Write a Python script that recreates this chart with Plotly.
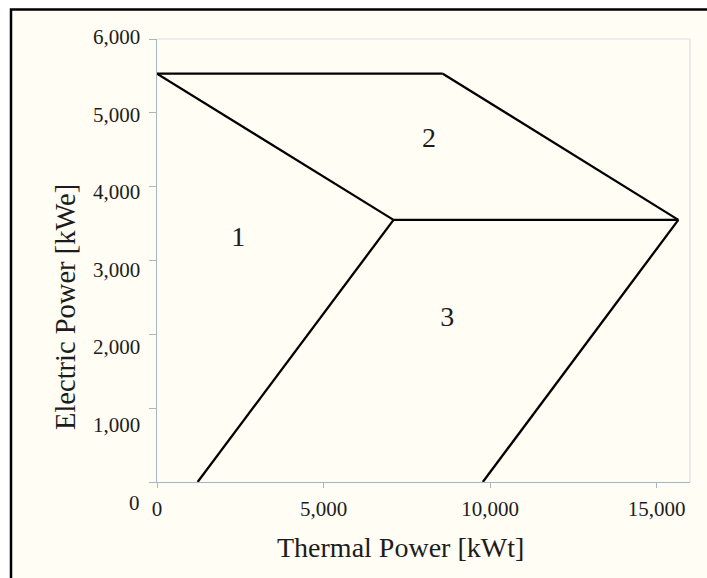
import plotly.graph_objects as go

# Operating-region boundaries of the CHP unit (thermal kWt vs electric kWe)
seg_top_x = [0, 8580]
seg_top_y = [5530, 5530]
seg_upper_left_x = [0, 7100]
seg_upper_left_y = [5530, 3550]
seg_upper_right_x = [8580, 15650]
seg_upper_right_y = [5530, 3550]
seg_middle_x = [7100, 15650]
seg_middle_y = [3550, 3550]
seg_lower_left_x = [1220, 7100]
seg_lower_left_y = [0, 3550]
seg_lower_right_x = [9780, 15650]
seg_lower_right_y = [0, 3550]

# Region numbers and where they sit
region_names = ["1", "2", "3"]
region_x = [2440, 8165, 8715]
region_y = [3290, 4630, 2210]

x_ticks = [0, 5000, 10000, 15000]
x_tick_text = ["0", "5,000", "10,000", "15,000"]
y_ticks = [0, 1000, 2000, 3000, 4000, 5000, 6000]
y_tick_text = ["0", "1,000", "2,000", "3,000", "4,000", "5,000", "6,000"]

x_title = "Thermal Power [kWt]"
y_title = "Electric Power [kWe]"

CREAM = "#FFFDF4"
AXIS = "#A3B8C4"
EDGE = "#D9DFE0"
INK = "#1c1c1c"
FONT = "Liberation Serif"

segments = [
    (seg_top_x, seg_top_y),
    (seg_upper_left_x, seg_upper_left_y),
    (seg_upper_right_x, seg_upper_right_y),
    (seg_middle_x, seg_middle_y),
    (seg_lower_left_x, seg_lower_left_y),
    (seg_lower_right_x, seg_lower_right_y),
]

fig = go.Figure()
for sx, sy in segments:
    fig.add_trace(go.Scatter(
        x=sx, y=sy, mode="lines",
        line=dict(color="black", width=2.3),
        showlegend=False, hoverinfo="skip",
    ))

fig.add_trace(go.Scatter(
    x=region_x, y=region_y, mode="text", text=region_names,
    textfont=dict(family=FONT, size=28, color=INK),
    showlegend=False, hoverinfo="skip",
))

# Figure geometry (pixels)
W, H = 707, 578
ML, MR, MT, MB = 157, 17, 39, 96
plot_h = H - MT - MB
plot_w = W - ML - MR


def px_x(p):
    return (p - ML) / plot_w


def px_y(p):
    return (H - MB - p) / plot_h


# y value labels sit a little below their ticks, drifting further down
# toward the origin (label spacing slightly wider than tick spacing)
label_drop_at_zero = 20.7   # px
label_drop_per_unit = 0.0038  # px per kWe

y_label_annotations = [
    dict(text=t, xref="paper", yref="y", x=px_x(142), y=v,
         xanchor="right", yanchor="middle", showarrow=False,
         yshift=-(label_drop_at_zero - label_drop_per_unit * v),
         font=dict(family=FONT, size=21, color=INK))
    for v, t in zip(y_ticks, y_tick_text)
]

fig.update_layout(
    width=W, height=H,
    margin=dict(l=ML, r=MR, t=MT, b=MB, pad=0),
    paper_bgcolor="white",
    plot_bgcolor=CREAM,
    font=dict(family=FONT, color=INK),
    xaxis=dict(
        range=[0, 16000], domain=[0, 1], anchor="y",
        tickvals=x_ticks, ticktext=x_tick_text,
        ticks="outside", ticklen=5, tickwidth=1, tickcolor=AXIS,
        showline=True, linecolor=AXIS, linewidth=1.2,
        showgrid=False, zeroline=False,
        tickfont=dict(family=FONT, size=21, color=INK),
        ticklabelstandoff=3,
    ),
    yaxis=dict(
        range=[0, 6000], domain=[0, 1], anchor="x",
        tickvals=y_ticks, showticklabels=False,
        ticks="outside", ticklen=7, tickwidth=1, tickcolor=AXIS,
        showline=True, linecolor=AXIS, linewidth=1.2,
        showgrid=False, zeroline=False,
    ),
    shapes=[
        # outer frame around the whole chart
        dict(type="rect", xref="paper", yref="paper",
             x0=px_x(11), x1=px_x(W + 40), y0=px_y(H + 40), y1=px_y(9.5),
             fillcolor=CREAM, line=dict(color="black", width=2.5), layer="below"),
        # light top and right edges of the plotting area
        dict(type="line", xref="x domain", yref="y domain",
             x0=0, x1=1, y0=1, y1=1, line=dict(color=EDGE, width=1.2)),
        dict(type="line", xref="x domain", yref="y domain",
             x0=1, x1=1, y0=0, y1=1, line=dict(color=EDGE, width=1.2)),
    ],
    annotations=y_label_annotations + [
        dict(text=x_title, xref="paper", yref="paper",
             x=px_x(400.5), y=px_y(547), showarrow=False,
             xanchor="center", yanchor="middle",
             font=dict(family=FONT, size=28, color=INK)),
        dict(text=y_title, xref="paper", yref="paper",
             x=px_x(65), y=px_y(307), showarrow=False, textangle=-90,
             xanchor="center", yanchor="middle",
             font=dict(family=FONT, size=28.5, color=INK)),
    ],
)

fig.write_html("out.html")
